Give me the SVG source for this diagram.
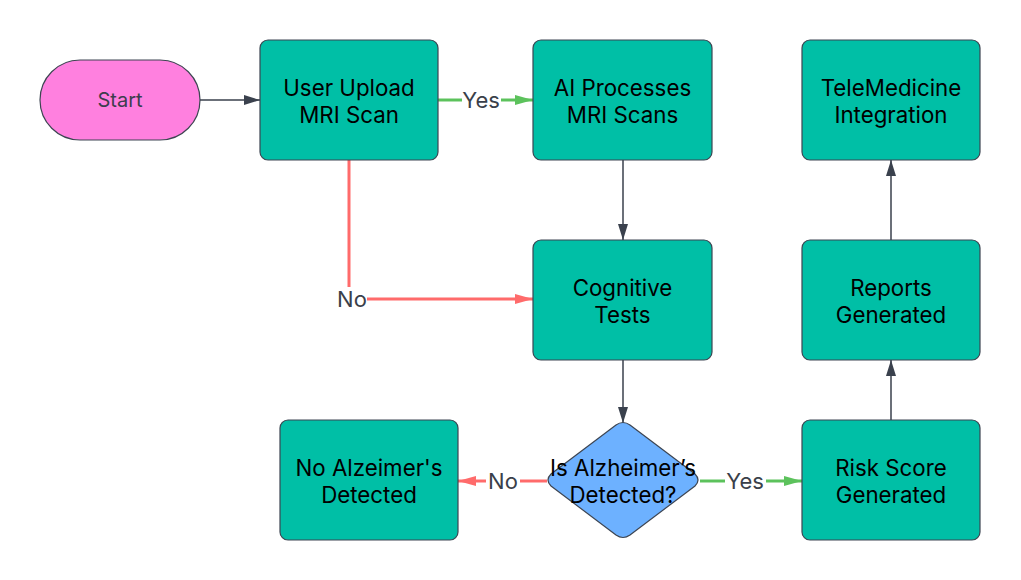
<svg xmlns="http://www.w3.org/2000/svg" width="1021" height="580" viewBox="0 0 1021 580">
<defs>
<style>
.box{fill:#00BFA6;stroke:#3d4552;stroke-width:1.2}
.t{font-family:Inter,"Noto Sans",sans-serif;font-size:22.3px;fill:#000;text-anchor:middle;dominant-baseline:central}
.lbl{font-family:Inter,"Noto Sans",sans-serif;font-size:22px;fill:#3a3f4a;text-anchor:middle;dominant-baseline:central}
.dk{stroke:#3a414d;stroke-width:1.5;fill:none}
.gr{stroke:#5CC25C;stroke-width:3;fill:none}
.rd{stroke:#FF6B6B;stroke-width:3;fill:none}
</style>
<marker id="ad" viewBox="0 0 16 10" refX="16" refY="5" markerWidth="16" markerHeight="10" markerUnits="userSpaceOnUse" orient="auto"><path d="M0,0 L16,5 L0,10 Z" fill="#3a414d"/></marker>
<marker id="ag" viewBox="0 0 18 10" refX="18" refY="5" markerWidth="18" markerHeight="10" markerUnits="userSpaceOnUse" orient="auto"><path d="M0,0 L18,5 L0,10 Z" fill="#5CC25C"/></marker>
<marker id="ar" viewBox="0 0 18 10" refX="18" refY="5" markerWidth="18" markerHeight="10" markerUnits="userSpaceOnUse" orient="auto"><path d="M0,0 L18,5 L0,10 Z" fill="#FF6B6B"/></marker>
</defs>
<rect width="1021" height="580" fill="#fff"/>
<g id="connectors">
<line class="dk" x1="200" y1="100" x2="260" y2="100" marker-end="url(#ad)"/>
<line class="gr" x1="438" y1="100" x2="462" y2="100"/>
<line class="gr" x1="501" y1="100" x2="533" y2="100" marker-end="url(#ag)"/>
<text class="lbl" x="481" y="100">Yes</text>
<line class="dk" x1="623" y1="160" x2="623" y2="240" marker-end="url(#ad)"/>
<line class="rd" x1="349" y1="160" x2="349" y2="287"/>
<line class="rd" x1="367" y1="299" x2="533" y2="299" marker-end="url(#ar)"/>
<text class="lbl" x="352" y="299">No</text>
<line class="dk" x1="623" y1="360" x2="623" y2="423" marker-end="url(#ad)"/>
<line class="rd" x1="547" y1="481" x2="520" y2="481"/>
<line class="rd" x1="486" y1="481" x2="458" y2="481" marker-end="url(#ar)"/>
<text class="lbl" x="503" y="481">No</text>
<line class="gr" x1="700" y1="481" x2="725" y2="481"/>
<line class="gr" x1="766" y1="481" x2="802" y2="481" marker-end="url(#ag)"/>
<text class="lbl" x="745" y="481">Yes</text>
<line class="dk" x1="891" y1="420" x2="891" y2="360" marker-end="url(#ad)"/>
<line class="dk" x1="891" y1="240" x2="891" y2="160" marker-end="url(#ad)"/>
</g>
<g id="start">
<rect x="40" y="60" width="160" height="80" rx="40" fill="#FF80DF" stroke="#3d4552" stroke-width="1.2"/>
<text class="t" x="120" y="100" style="fill:#3d3d4d;font-size:20px">Start</text>
</g>
<g id="upload">
<rect class="box" x="260" y="40" width="178" height="120" rx="8"/>
<text class="t" x="349" y="87">User Upload</text>
<text class="t" x="349" y="114">MRI Scan</text>
</g>
<g id="ai">
<rect class="box" x="533" y="40" width="179" height="120" rx="8"/>
<text class="t" x="622.5" y="87">AI Processes</text>
<text class="t" x="622.5" y="114">MRI Scans</text>
</g>
<g id="tele">
<rect class="box" x="802" y="40" width="178" height="120" rx="8"/>
<text class="t" x="891" y="87">TeleMedicine</text>
<text class="t" x="891" y="114">Integration</text>
</g>
<g id="cognitive">
<rect class="box" x="533" y="240" width="179" height="120" rx="8"/>
<text class="t" x="622.5" y="287">Cognitive</text>
<text class="t" x="622.5" y="314">Tests</text>
</g>
<g id="reports">
<rect class="box" x="802" y="240" width="178" height="120" rx="8"/>
<text class="t" x="891" y="287">Reports</text>
<text class="t" x="891" y="314">Generated</text>
</g>
<g id="noalz">
<rect class="box" x="280" y="420" width="178" height="120" rx="8"/>
<text class="t" x="369" y="467">No Alzeimer's</text>
<text class="t" x="369" y="494">Detected</text>
</g>
<g id="decision">
<path d="M616,425 Q623,420 630,425 L695,474 Q701,480 695,486 L630,535 Q623,540 616,535 L551,486 Q545,480 551,474 Z" fill="#6DB1FF" stroke="#3d4552" stroke-width="1.2"/>
<text class="t" x="623" y="467">Is Alzheimer’s</text>
<text class="t" x="623" y="494">Detected?</text>
</g>
<g id="risk">
<rect class="box" x="802" y="420" width="178" height="120" rx="8"/>
<text class="t" x="891" y="467">Risk Score</text>
<text class="t" x="891" y="494">Generated</text>
</g>
</svg>
